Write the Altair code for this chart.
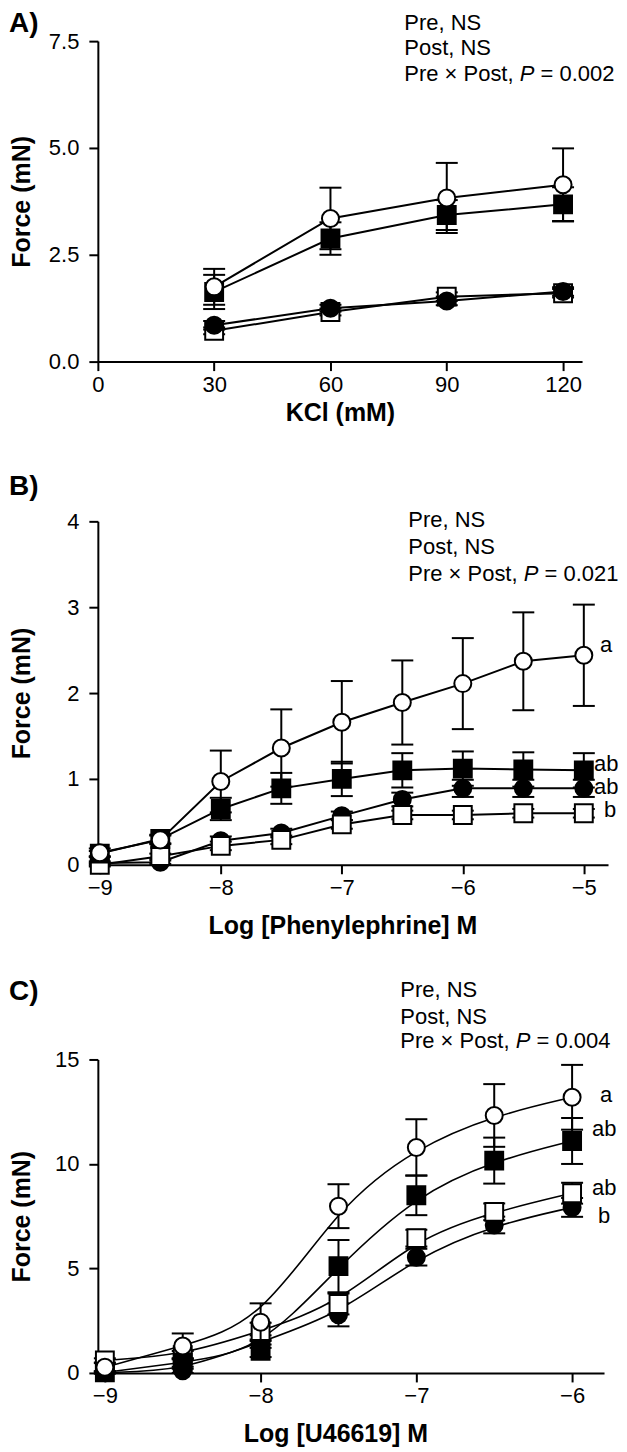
import altair as alt
import pandas as pd

FONT = "Liberation Sans"

# ---------------- Panel A : KCl ----------------
A_X = [30, 60, 90, 120]
A_OPEN_CIRCLE = [1.75, 3.35, 3.83, 4.14]
A_OPEN_CIRCLE_ERR = [0.42, 0.72, 0.82, 0.85]
A_FILLED_SQUARE = [1.63, 2.88, 3.43, 3.68]
A_FILLED_SQUARE_ERR = [0.40, 0.38, 0.35, 0.40]
A_FILLED_CIRCLE = [0.85, 1.25, 1.42, 1.64]
A_FILLED_CIRCLE_ERR = [0.10, 0.08, 0.10, 0.10]
A_OPEN_SQUARE = [0.72, 1.16, 1.52, 1.60]
A_OPEN_SQUARE_ERR = [0.08, 0.08, 0.10, 0.10]
A_XTICKS = [0, 30, 60, 90, 120]
A_YTICKS = [0, 2.5, 5, 7.5]
A_STATS = ["Pre, NS", "Post, NS", "0.002"]

# ---------------- Panel B : Phenylephrine ----------------
B_X = [-9, -8.5, -8, -7.5, -7, -6.5, -6, -5.5, -5]
B_OPEN_CIRCLE = [0.14, 0.29, 0.97, 1.36, 1.66, 1.89, 2.11, 2.37, 2.44]
B_OPEN_CIRCLE_ERR = [0.05, 0.05, 0.36, 0.45, 0.48, 0.49, 0.53, 0.57, 0.59]
B_FILLED_SQUARE = [0.13, 0.30, 0.65, 0.89, 1.00, 1.10, 1.12, 1.11, 1.10]
B_FILLED_SQUARE_ERR = [0.03, 0.05, 0.13, 0.18, 0.20, 0.20, 0.20, 0.20, 0.20]
B_FILLED_CIRCLE = [0.02, 0.03, 0.28, 0.37, 0.57, 0.76, 0.89, 0.89, 0.89]
B_FILLED_CIRCLE_ERR = [0.02, 0.02, 0.05, 0.05, 0.05, 0.08, 0.10, 0.10, 0.10]
B_OPEN_SQUARE = [0.00, 0.10, 0.22, 0.29, 0.47, 0.58, 0.58, 0.60, 0.60]
B_OPEN_SQUARE_ERR = [0.02, 0.03, 0.05, 0.05, 0.05, 0.05, 0.05, 0.05, 0.05]
B_XTICKS = [-9, -8, -7, -6, -5]
B_YTICKS = [0, 1, 2, 3, 4]
B_STATS = ["Pre, NS", "Post, NS", "0.021"]
B_GROUP_TEXT = ["a", "ab", "ab", "b"]
B_GROUP_Y = [2.56, 1.17, 0.91, 0.64]

# ---------------- Panel C : U46619 ----------------
C_X = [-9, -8.5, -8, -7.5, -7, -6.5, -6]
C_OPEN_CIRCLE = [0.27, 1.29, 2.43, 7.98, 10.79, 12.32, 13.19]
C_OPEN_CIRCLE_ERR = [0.20, 0.60, 0.90, 1.05, 1.35, 1.50, 1.55]
C_FILLED_SQUARE = [0.03, 0.50, 1.06, 5.11, 8.50, 10.16, 11.10]
C_FILLED_SQUARE_ERR = [0.05, 0.20, 0.30, 1.25, 0.95, 1.10, 1.10]
C_OPEN_SQUARE = [0.60, 0.85, 2.00, 3.30, 6.45, 7.71, 8.60]
C_OPEN_SQUARE_ERR = [0.10, 0.20, 0.40, 0.50, 0.40, 0.40, 0.50]
C_FILLED_CIRCLE = [0.02, 0.10, 1.50, 2.78, 5.54, 7.08, 7.92]
C_FILLED_CIRCLE_ERR = [0.05, 0.10, 0.30, 0.55, 0.40, 0.40, 0.45]
C_XTICKS = [-9, -8, -7, -6]
C_YTICKS = [0, 5, 10, 15]
C_STATS = ["Pre, NS", "Post, NS", "0.004"]
C_GROUP_TEXT = ["a", "ab", "ab", "b"]
C_GROUP_Y = [13.28, 11.66, 8.84, 7.50]

STYLE = {
    "open_circle": ("circle", "white", 290),
    "filled_circle": ("circle", "black", 290),
    "open_square": ("square", "white", 320),
    "filled_square": ("square", "black", 320),
}

ONE = pd.DataFrame({"k": [0]})


def text_at(txt, x, y, size=22, weight="normal", style="normal", align="left"):
    return alt.Chart(ONE).mark_text(
        text=txt, font=FONT, fontSize=size, fontWeight=weight, fontStyle=style,
        align=align, baseline="middle", color="black",
    ).encode(x=alt.value(x), y=alt.value(y))


def make_panel(xs, series, x_domain, y_domain, x_ticks, y_ticks, y_fmt,
               width, height, x_title, x_title_x, x_title_y, interp, line_w,
               letter, letter_y, annot_x, annot_y, stats, group_labels):
    rows = []
    for name, vals, errs in series:
        for x, v, e in zip(xs, vals, errs):
            rows.append({"x": x, "y": v, "lo": v - e, "hi": v + e, "series": name})
    df = pd.DataFrame(rows)

    xscale = alt.Scale(domain=x_domain, nice=False, zero=False)
    yscale = alt.Scale(domain=y_domain, nice=False, zero=False)
    xaxis = alt.Axis(values=x_ticks, format="d", title=x_title,
                     titleX=x_title_x, titleY=x_title_y, titleBaseline="middle")
    yaxis = alt.Axis(values=y_ticks, format=y_fmt, title="Force (mN)",
                     titleX=-76, titleY=height / 2, titleBaseline="middle")

    def X(f):
        return alt.X(f, type="quantitative", scale=xscale, axis=xaxis)

    def Y(f):
        return alt.Y(f, type="quantitative", scale=yscale, axis=yaxis)

    base = alt.Chart(df)
    layers = [
        base.mark_line(color="black", strokeWidth=line_w, interpolate=interp).encode(
            x=X("x"), y=Y("y"), detail="series:N", order="x:Q")
    ]
    for name, _, _ in series:
        shape, fill, size = STYLE[name]
        sub = base.transform_filter(alt.datum.series == name)
        layers.append(sub.mark_rule(color="black", strokeWidth=2).encode(
            x=X("x"), y=Y("lo"), y2="hi"))
        for f in ("lo", "hi"):
            layers.append(sub.mark_tick(color="black", orient="horizontal", size=22,
                                        thickness=2, opacity=1).encode(x=X("x"), y=Y(f)))
        layers.append(sub.mark_point(shape=shape, filled=True, fill=fill, stroke="black",
                                     strokeWidth=2, size=size, opacity=1).encode(
            x=X("x"), y=Y("y")))

    # group letters
    for txt, yv, xpx in group_labels:
        layers.append(alt.Chart(pd.DataFrame({"gy": [yv]})).mark_text(
            text=txt, font=FONT, fontSize=22, align="left", baseline="middle",
            color="black").encode(x=alt.value(xpx), y=Y("gy")))

    # panel letter
    layers.append(text_at(letter, -89, letter_y, size=28, weight="bold"))
    # statistics annotation
    layers.append(text_at(stats[0], annot_x, annot_y[0]))
    layers.append(text_at(stats[1], annot_x, annot_y[1]))
    layers.append(text_at("Pre \u00d7 Post,", annot_x, annot_y[2]))
    layers.append(text_at("P", annot_x + 115.6, annot_y[2], style="italic"))
    layers.append(text_at("= " + stats[2], annot_x + 136.4, annot_y[2]))

    return alt.layer(*layers).properties(width=width, height=height)


panel_a = make_panel(
    A_X,
    [("filled_square", A_FILLED_SQUARE, A_FILLED_SQUARE_ERR),
     ("open_circle", A_OPEN_CIRCLE, A_OPEN_CIRCLE_ERR),
     ("open_square", A_OPEN_SQUARE, A_OPEN_SQUARE_ERR),
     ("filled_circle", A_FILLED_CIRCLE, A_FILLED_CIRCLE_ERR)],
    [0, 124.9], [0, 7.5], A_XTICKS, A_YTICKS, ".1f",
    485, 321, "KCl (mM)", 242.5, 51, "linear", 2,
    "A)", -17, 307, [-18, 7, 33], A_STATS, [])

panel_b = make_panel(
    B_X,
    [("filled_circle", B_FILLED_CIRCLE, B_FILLED_CIRCLE_ERR),
     ("open_square", B_OPEN_SQUARE, B_OPEN_SQUARE_ERR),
     ("filled_square", B_FILLED_SQUARE, B_FILLED_SQUARE_ERR),
     ("open_circle", B_OPEN_CIRCLE, B_OPEN_CIRCLE_ERR)],
    [-9.016, -4.80], [0, 4], B_XTICKS, B_YTICKS, "d",
    511, 344, "Log [Phenylephrine] M", 245, 61, "linear", 2,
    "B)", -34, 311, [-1, 26, 53], B_STATS,
    list(zip(B_GROUP_TEXT, B_GROUP_Y, [503, 497, 497, 507])))

panel_c = make_panel(
    C_X,
    [("filled_circle", C_FILLED_CIRCLE, C_FILLED_CIRCLE_ERR),
     ("open_square", C_OPEN_SQUARE, C_OPEN_SQUARE_ERR),
     ("filled_square", C_FILLED_SQUARE, C_FILLED_SQUARE_ERR),
     ("open_circle", C_OPEN_CIRCLE, C_OPEN_CIRCLE_ERR)],
    [-9.045, -5.795], [0, 15], C_XTICKS, C_YTICKS, "d",
    507, 314, "Log [U46619] M", 238, 61, "basis", 1.6,
    "C)", -68, 303, [-70, -43, -18], C_STATS,
    list(zip(C_GROUP_TEXT, C_GROUP_Y, [503, 495, 495, 501])))


def spacer(h):
    return alt.Chart(ONE).mark_text(text="").encode(
        x=alt.value(0), y=alt.value(0)).properties(width=10, height=h)


chart = alt.vconcat(
    panel_a, spacer(120), panel_b, spacer(155), panel_c,
    spacing=20, bounds="flush",
).properties(padding=0).configure_view(stroke="transparent").configure_axis(
    domainColor="black", domainWidth=2, tickColor="black", tickWidth=2, tickSize=9,
    labelFont=FONT, labelFontSize=22, labelColor="black",
    titleFont=FONT, titleFontSize=25, titleFontWeight="bold", titleColor="black",
    grid=False, labelFlush=False, labelOverlap=False,
).configure_axisX(labelPadding=4).configure_axisY(labelPadding=10)

chart.save("out.html", embed_options={"renderer": "svg", "actions": False})
